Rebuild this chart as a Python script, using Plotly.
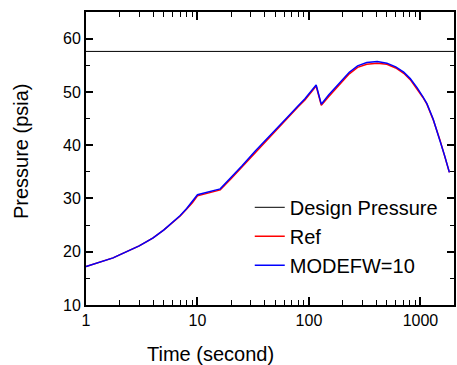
import plotly.graph_objects as go

# Time (s)
time = [1, 1.25, 1.5, 1.75, 2, 2.5, 3, 3.5, 4, 5, 6, 7, 8, 9, 10, 16, 20, 25, 33, 40, 53, 65, 80, 92, 116,
        129, 150, 170, 194, 230, 273, 330, 410, 500, 600, 708, 810, 932, 1050, 1143, 1300, 1500, 1650, 1818]
modefw = [17.2, 17.83, 18.35, 18.85, 19.4, 20.3, 21.1, 21.9, 22.6, 24.1, 25.5, 26.8, 28.1, 29.4, 30.7,
          31.8, 33.9, 36.1, 38.9, 40.8, 43.4, 45.4, 47.4, 48.7, 51.3,
          47.7, 49.4, 50.7, 52.0, 53.7, 54.9, 55.5, 55.7, 55.4, 54.7, 53.7, 52.5, 50.8, 49.1, 47.8, 44.9, 41.0, 38.0, 34.9]
ref = [17.2, 17.83, 18.35, 18.85, 19.4, 20.3, 21.1, 21.9, 22.6, 24.1, 25.5, 26.7, 28.0, 29.2, 30.5,
       31.6, 33.7, 35.9, 38.7, 40.6, 43.2, 45.2, 47.2, 48.5, 51.1,
       47.5, 49.1, 50.4, 51.7, 53.4, 54.6, 55.2, 55.4, 55.2, 54.5, 53.5, 52.3, 50.6, 49.0, 47.7, 44.8, 40.9, 37.9, 34.9]
design_time = [1, 2000]
design_pressure = [57.6, 57.6]

fig = go.Figure()
fig.add_trace(go.Scatter(x=design_time, y=design_pressure, mode="lines", name="Design Pressure",
                         line=dict(color="black", width=1)))
fig.add_trace(go.Scatter(x=time, y=ref, mode="lines", name="Ref",
                         line=dict(color="#ff0000", width=1.5)))
fig.add_trace(go.Scatter(x=time, y=modefw, mode="lines", name="MODEFW=10",
                         line=dict(color="#0000ff", width=1.5)))

font = "Liberation Sans, Arial, sans-serif"
fig.update_layout(
    width=457, height=365,
    margin=dict(l=86, r=1, t=12, b=60),
    paper_bgcolor="white", plot_bgcolor="white",
    font=dict(family=font, color="black", size=16),
    showlegend=True,
    legend=dict(x=0.445, y=0.40, xanchor="left", yanchor="top",
                bgcolor="rgba(0,0,0,0)", font=dict(size=20, family=font),
                tracegroupgap=0),
    xaxis=dict(type="log", range=[0, 3.30103], showline=True, linecolor="black", linewidth=2,
               mirror="allticks", ticks="inside", ticklen=8, tickwidth=1.5, tickcolor="black",
               tickvals=[1, 10, 100, 1000], ticktext=["1", "10", "100", "1000"],
               showgrid=False, zeroline=False,
               minor=dict(ticks="inside", ticklen=5, tickcolor="black", tickwidth=1.2,
                          tickvals=[2, 3, 4, 5, 6, 7, 8, 9, 20, 30, 40, 50, 60, 70, 80, 90,
                                    200, 300, 400, 500, 600, 700, 800, 900], showgrid=False),
               tickfont=dict(size=16)),
    yaxis=dict(range=[10, 65], showline=True, linecolor="black", linewidth=2,
               mirror="allticks", ticks="inside", ticklen=7, tickwidth=1.5, tickcolor="black",
               dtick=10, tick0=0, showgrid=False, zeroline=False,
               minor=dict(ticks="inside", ticklen=4, tickcolor="black", tickwidth=1.2, dtick=5, showgrid=False),
               tickfont=dict(size=16)),
    annotations=[
        dict(text="Time (second)", xref="paper", yref="paper", x=0.338, y=-0.167,
             xanchor="center", yanchor="middle", showarrow=False, font=dict(size=20)),
        dict(text="Pressure (psia)", xref="paper", yref="paper", x=-0.176, y=0.526,
             xanchor="center", yanchor="middle", showarrow=False, textangle=-90, font=dict(size=20)),
    ],
)

fig.write_html("out.html", config={"displayModeBar": False},
               post_script="document.body.style.margin='0';document.body.style.overflow='hidden';")
